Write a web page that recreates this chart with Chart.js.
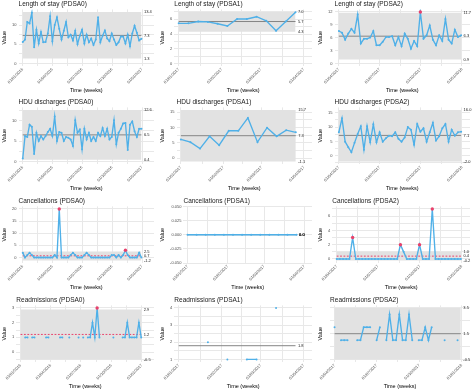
<!DOCTYPE html>
<html>
<head>
<meta charset="utf-8">
<script src="https://cdn.jsdelivr.net/npm/chart.js@4.4.1/dist/chart.umd.min.js"></script>
<style>
html, body { margin: 0; padding: 0; background: #fff; width: 474px; height: 390px; overflow: hidden; position: relative; }
canvas { position: absolute; }
</style>
</head>
<body>
<script>
// tick labels (weekly data, quarterly / monthly ticks)
const ticksPdsa0 = ['01/01/2016', '01/04/2016', '01/07/2016', '01/10/2016', '01/01/2017'];
const ticksPdsa1 = ['01/01/2017', '01/02/2017', '01/03/2017', '01/04/2017'];
const ticksPdsa2 = ['01/04/2017', '01/07/2017', '01/10/2017', '01/01/2018'];

// series values, limits are [lcl, cl, ucl]
const losPdsa0 = [5.6, 6.2, 10.8, 10.4, 13.2, 4.2, 8.8, 5.2, 8.2, 5.5, 5.6, 7.8, 12.3, 5.8, 10.0, 12.0, 9.0, 6.2, 8.5, 10.8, 6.8, 7.5, 6.0, 8.5, 5.0, 7.2, 8.8, 5.2, 7.5, 5.5, 6.5, 4.8, 6.2, 12.0, 5.5, 7.2, 8.6, 6.5, 5.8, 7.8, 6.2, 4.8, 5.5, 7.0, 7.0, 5.2, 7.5, 4.5, 7.8, 9.8, 8.0, 6.0, 6.4];
const losPdsa0Limits = [1.3, 7.3, 13.4];
const losPdsa1 = [5.45, 5.45, 5.7, 5.65, 5.4, 5.1, 6.05, 6.05, 6.35, 5.8, 4.45, 5.7, 6.95];
const losPdsa1Limits = [4.3, 5.7, 7.0];
const losPdsa2 = [7.5, 7.1, 5.5, 6.9, 8.0, 7.1, 11.3, 4.6, 5.7, 5.7, 6.0, 7.5, 4.2, 4.2, 5.0, 6.1, 6.1, 6.3, 4.2, 6.1, 4.0, 6.9, 5.7, 3.4, 5.2, 4.0, 11.9, 5.7, 6.5, 8.8, 5.5, 4.2, 6.5, 5.2, 10.3, 5.5, 4.6, 7.8, 6.1, 6.5];
const losPdsa2Limits = [0.9, 6.3, 11.7];

const hduPdsa0 = [0.7, 6.2, 6.0, 9.0, 8.5, 1.8, 7.0, 5.0, 6.2, 5.4, 6.2, 7.2, 8.0, 6.2, 11.0, 5.0, 7.2, 7.0, 5.0, 6.0, 5.8, 5.4, 3.8, 10.1, 7.0, 7.8, 3.0, 8.0, 5.4, 7.0, 5.0, 6.0, 5.0, 7.0, 6.2, 8.2, 6.2, 8.0, 5.4, 6.0, 10.1, 4.2, 7.0, 8.0, 9.3, 9.4, 2.8, 9.0, 9.8, 7.4, 6.0, 8.0, 8.0];
const hduPdsa0Limits = [0.4, 6.5, 12.6];
const hduPdsa1 = [6.1, 5.2, 3.1, 7.1, 4.2, 8.9, 8.9, 13.1, 5.2, 9.9, 7.1, 9.1, 8.4];
const hduPdsa1Limits = [-1.1, 7.3, 15.7];
const hduPdsa2 = [8.2, 13.1, 4.9, 3.0, 1.2, 4.5, 7.6, 10.3, 2.1, 10.3, 4.7, 11.0, 4.7, 8.2, 4.9, 6.1, 7.0, 6.8, 8.2, 5.9, 4.9, 6.4, 10.0, 9.1, 3.8, 11.1, 8.4, 9.6, 4.9, 8.2, 11.5, 5.3, 6.8, 9.6, 11.1, 4.9, 9.1, 7.0, 8.2, 8.4];
const hduPdsa2Limits = [-2.0, 7.1, 16.0];

const cancelPdsa0 = [2, 0, 1, 2, 1, 0, 0, 0, 0, 0, 0, 0, 0, 0, 1, 0, 20, 0, 0, 0, 0, 1, 2, 1, 0, 0, 0, 1, 2, 1, 0, 0, 0, 0, 0, 0, 0, 0, 0, 1, 1, 0, 1, 0, 1, 3, 1, 0, 0, 0, 0, 2, 0];
const cancelPdsa0Limits = [-1.2, 0.7, 2.5];
const cancelPdsa1 = [0, 0, 0, 0, 0, 0, 0, 0, 0, 0, 0, 0, 0];
const cancelPdsa1Limits = [0, 0, 0];
const cancelPdsa2 = [0, 0, 0, 0, 0, 3, 0, 0, 0, 0, 0, 0, 0, 0, 0, 0, 0, 0, 0, 0, 2, 1, 0, 0, 0, 0, 2, 0, 0, 0, 7, 0, 0, 0, 0, 0, 0, 0, 0, 0];
const cancelPdsa2Limits = [-0.2, 0.4, 1.0];

const readmPdsa0 = [null, null, 1, 1, null, 1, 1, null, null, null, null, 1, 1, null, null, null, null, 1, 1, null, null, 1, null, null, null, 1, null, 1, null, 1, 1, 2, 1, 3, 1, null, null, null, null, null, 1, null, null, null, 1, 1, 2, 1, 1, 1, 1, 2, 1];
const readmPdsa0Limits = [-0.5, 1.2, 2.9];
const readmPdsa1 = [null, null, null, 2, null, 1, null, 1, 1, null, 4, null, null];
const readmPdsa1Limits = [null, 1.8, null];
const readmPdsa2 = [2, null, 1, 1, 1, null, null, 1, 1, 2, 2, 2, null, 1, 2, null, 1, 3, 1, 1, 3, 1, 1, 3, 1, null, 1, 1, 2, 1, 2, null, null, null, 1, null, null, null, 1, null];
const readmPdsa2Limits = [-0.5, 1.5, 3.5];

const panels = [
    { title: 'Length of stay (PDSA0)', values: losPdsa0, limits: losPdsa0Limits, dates: ticksPdsa0, yTicks: [0, 5, 10] },
    { title: 'Length of stay (PDSA1)', values: losPdsa1, limits: losPdsa1Limits, dates: ticksPdsa1, yTicks: [0, 2, 4, 6] },
    { title: 'Length of stay (PDSA2)', values: losPdsa2, limits: losPdsa2Limits, dates: ticksPdsa2, yTicks: [0, 3, 6, 9, 12] },
    { title: 'HDU discharges (PDSA0)', values: hduPdsa0, limits: hduPdsa0Limits, dates: ticksPdsa0, yTicks: [0, 5, 10] },
    { title: 'HDU discharges (PDSA1)', values: hduPdsa1, limits: hduPdsa1Limits, dates: ticksPdsa1, yTicks: [0, 5, 10, 15] },
    { title: 'HDU discharges (PDSA2)', values: hduPdsa2, limits: hduPdsa2Limits, dates: ticksPdsa2, yTicks: [0, 5, 10, 15] },
    { title: 'Cancellations (PDSA0)', values: cancelPdsa0, limits: cancelPdsa0Limits, dates: ticksPdsa0, yTicks: [0, 5, 10, 15, 20], runSignal: true },
    { title: 'Cancellations (PDSA1)', values: cancelPdsa1, limits: cancelPdsa1Limits, dates: ticksPdsa1, yTicks: [-0.05, -0.025, 0, 0.025, 0.05] },
    { title: 'Cancellations (PDSA2)', values: cancelPdsa2, limits: cancelPdsa2Limits, dates: ticksPdsa2, yTicks: [0, 2, 4, 6], runSignal: true },
    { title: 'Readmissions (PDSA0)', values: readmPdsa0, limits: readmPdsa0Limits, dates: ticksPdsa0, yTicks: [0, 1, 2, 3], runSignal: true },
    { title: 'Readmissions (PDSA1)', values: readmPdsa1, limits: readmPdsa1Limits, dates: ticksPdsa1, yTicks: [1, 2, 3, 4], noZero: true },
    { title: 'Readmissions (PDSA2)', values: readmPdsa2, limits: readmPdsa2Limits, dates: ticksPdsa2, yTicks: [0, 1, 2, 3] },
];

const FONT = "'Liberation Sans', Arial, sans-serif";
const BLUE = '#4fb0e8';
const RED = '#e8416b';
const GREY = '#858585';
const BAND = '#e2e2e2';
const GRID = '#e8e8e8';
const colLefts = [0, 158, 316];
const rowTops = [0, 98, 197, 296];

const toDay = (s) => {
    const [d, m, y] = s.split('/').map(Number);
    return Date.UTC(y, m - 1, d) / 86400000;
};

const limitLabels = {
    id: 'limitLabels',
    afterDatasetsDraw(chart, args, opts) {
        const { ctx, scales: { x, y } } = chart;
        const px = x.getPixelForValue(opts.lastX) + 2.5;
        ctx.save();
        ctx.font = '4px ' + FONT;
        ctx.fillStyle = '#1a1a1a';
        ctx.textAlign = 'left';
        ctx.textBaseline = 'middle';
        opts.values.forEach((v) => {
            if (v !== null) {
                ctx.fillText(v.toFixed(1), px, y.getPixelForValue(v));
            }
        });
        ctx.restore();
    },
};

const buildChart = (panel, index) => {
    const col = index % 3;
    const row = Math.floor(index / 3);
    const canvas = document.createElement('canvas');
    canvas.width = 158;
    canvas.height = 98;
    canvas.style.left = colLefts[col] + 'px';
    canvas.style.top = rowTops[row] + 'px';
    document.body.appendChild(canvas);

    const day0 = toDay(panel.dates[0]);
    const tickDays = panel.dates.map((d) => toDay(d) - day0);
    const span = tickDays[tickDays.length - 1];
    const lastX = (panel.values.length - 1) * 7;
    const [lcl, cl, ucl] = panel.limits;

    const present = panel.values.filter((v) => v !== null);
    const limitVals = panel.limits.filter((v) => v !== null);
    const lo = Math.min(...present, ...limitVals, panel.noZero ? Infinity : 0);
    const hi = Math.max(...present, ...limitVals);
    const pad = hi === lo ? 0.05 : (hi - lo) * 0.05;
    const yMin = lo - pad;
    const yMax = hi + pad;

    const dec = Math.max(...panel.yTicks.map((t) => (String(t).split('.')[1] || '').length));
    const half = (panel.yTicks[1] - panel.yTicks[0]) / 2;
    const yGrid = [];
    for (let j = Math.ceil((yMin - panel.yTicks[0]) / half - 1e-9); panel.yTicks[0] + j * half <= yMax + 1e-9; j++) {
        const v = +(panel.yTicks[0] + j * half).toFixed(6);
        yGrid.push({ value: v, lab: j % 2 === 0 ? v.toFixed(dec) : '' });
    }

    const xGrid = [];
    tickDays.forEach((d, k) => {
        xGrid.push({ value: d, lab: panel.dates[k] });
        if (k < tickDays.length - 1) {
            xGrid.push({ value: (d + tickDays[k + 1]) / 2, lab: '' });
        }
    });

    const points = panel.values.map((v, i) => ({ x: i * 7, y: v }));
    const signals = points.filter((p) => p.y !== null && ucl !== null && (p.y > ucl || p.y < lcl));

    const datasets = [
        { data: signals, showLine: false, pointRadius: 1.7, pointBackgroundColor: RED, pointBorderWidth: 0, order: 0 },
        { data: points, borderColor: BLUE, borderWidth: 1.35, pointRadius: 1, pointBackgroundColor: BLUE, pointBorderWidth: 0, order: 1 },
        {
            data: [{ x: 0, y: cl }, { x: lastX, y: cl }],
            borderColor: panel.runSignal ? RED : GREY,
            borderDash: panel.runSignal ? [1.8, 1.6] : [],
            borderWidth: 1,
            pointRadius: 0,
            order: 2,
        },
    ];
    if (ucl !== null) {
        datasets.push(
            { data: [{ x: 0, y: ucl }, { x: lastX, y: ucl }], borderColor: 'transparent', borderWidth: 0, pointRadius: 0, fill: '+1', backgroundColor: BAND, order: 3 },
            { data: [{ x: 0, y: lcl }, { x: lastX, y: lcl }], borderColor: 'transparent', borderWidth: 0, pointRadius: 0, order: 4 },
        );
    }

    const tickFont = { family: FONT, size: 4 };

    return new Chart(canvas, {
        type: 'line',
        data: { datasets },
        plugins: [limitLabels],
        options: {
            responsive: false,
            animation: false,
            devicePixelRatio: 1,
            layout: { padding: { left: 0.5, right: 1.5, top: 0, bottom: 0 } },
            plugins: {
                legend: { display: false },
                tooltip: { enabled: false },
                title: {
                    display: true,
                    text: panel.title,
                    align: 'start',
                    fullSize: false,
                    color: '#1a1a1a',
                    font: { family: FONT, size: 6.5, weight: 'normal' },
                    padding: { top: 0.8, bottom: 0.8 },
                },
                limitLabels: { values: [ucl, cl, lcl], lastX },
            },
            scales: {
                x: {
                    type: 'linear',
                    min: -0.035 * span,
                    max: span * (col === 0 ? 1.1 : 1.065),
                    afterBuildTicks: (ax) => { ax.ticks = xGrid.map((t) => ({ ...t })); },
                    afterFit: (ax) => { ax.height = 32; },
                    grid: { color: GRID, lineWidth: 1, drawTicks: false },
                    border: { display: false },
                    ticks: {
                        autoSkip: false,
                        minRotation: 45,
                        maxRotation: 45,
                        padding: 1,
                        color: '#4d4d4d',
                        font: tickFont,
                        callback: (v, i, ticks) => ticks[i].lab,
                    },
                    title: {
                        display: true,
                        text: 'Time (weeks)',
                        color: '#000',
                        font: { family: FONT, size: 5.5 },
                        padding: { top: 0, bottom: 4 },
                    },
                },
                y: {
                    type: 'linear',
                    min: yMin,
                    max: yMax,
                    afterBuildTicks: (ax) => { ax.ticks = yGrid.map((t) => ({ ...t })); },
                    grid: { color: GRID, lineWidth: 1, drawTicks: false },
                    border: { display: false },
                    ticks: {
                        padding: 2,
                        color: '#4d4d4d',
                        font: tickFont,
                        callback: (v, i, ticks) => ticks[i].lab,
                    },
                    title: {
                        display: true,
                        text: 'Value',
                        color: '#000',
                        font: { family: FONT, size: 5.5 },
                        padding: { top: 0.5, bottom: 2.5 },
                    },
                },
            },
        },
    });
};

panels.forEach(buildChart);
</script>
</body>
</html>
